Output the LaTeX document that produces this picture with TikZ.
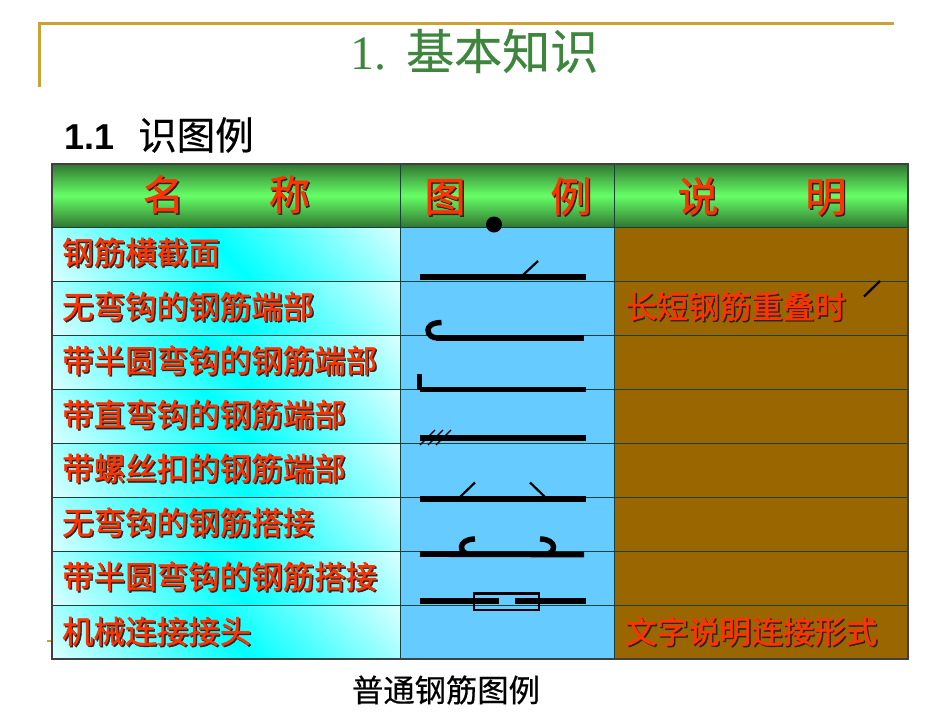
\documentclass[tikz,border=0pt]{standalone}
\usepackage{fontspec}
\setmainfont{Liberation Serif}
\newfontfamily\cjk[FakeBold=0.5]{Noto Sans CJK SC}
\newfontfamily\cjkfat[FakeBold=1.4]{Noto Sans CJK SC}
\newfontfamily\arial{Liberation Sans}
\definecolor{framegold}{RGB}{204,163,51}
\definecolor{titlegreen}{RGB}{62,134,62}
\definecolor{headdark}{RGB}{48,118,48}
\definecolor{headlight}{RGB}{102,255,102}
\definecolor{cellblue}{RGB}{102,204,255}
\definecolor{cellbrown}{RGB}{153,102,0}
\definecolor{labelred}{RGB}{255,51,0}
\definecolor{gridline}{RGB}{25,65,60}
\pgfdeclareverticalshading{rowglow}{100bp}{color(0bp)=(white); color(9bp)=(white); color(50bp)=(cyan); color(91bp)=(white); color(100bp)=(white)}
\newcommand{\shadowed}[1]{\makebox[0pt][l]{\hspace{1.4pt}\raisebox{-1.4pt}{\textcolor{black!85}{#1}}}\textcolor{labelred}{#1}}
\tikzset{
    namecell/.style={shading=rowglow,shading angle=132},
    headcell/.style={top color=headdark,bottom color=headdark,middle color=headlight},
    headtext/.style={font=\cjkfat\fontsize{41}{41}\selectfont,inner sep=0pt},
    rowtext/.style={anchor=west,font=\cjkfat\fontsize{31.5}{31.5}\selectfont,inner sep=0pt},
    gridrule/.style={gridline,line width=0.8pt},
    bar/.style={line width=5.8pt},
    hook/.style={line width=5.4pt},
    tick/.style={line width=2.2pt},
}
\begin{document}
\begin{tikzpicture}[x=1pt,y=-1pt]
    \useasboundingbox (0,0) rectangle (950,713);
    % frame
    \draw[framegold,line width=2.4pt] (39.5,87)--(39.5,23.5);
    \draw[framegold,line width=2.4pt] (38.3,23.5)--(894,23.5);
    \draw[framegold,line width=1.5pt] (47,641)--(52,641);
    % title
    \node[titlegreen,inner sep=0pt,font=\fontsize{48}{48}\selectfont,anchor=west] at (350,51) (title) {1.\hspace{20pt}{\cjk 基本知识}};
    \node[anchor=west,inner sep=0pt] at (64,135) (subtitle) {{\arial\bfseries\fontsize{36}{36}\selectfont 1.1}\hspace{24pt}{\cjk\fontsize{38.5}{38.5}\selectfont 识图例}};
    % table cells
    \shade[headcell] (52,164) rectangle (908,227);
    \shade[namecell] (52,227) rectangle (400.5,281);
    \shade[namecell] (52,281) rectangle (400.5,335);
    \shade[namecell] (52,335) rectangle (400.5,389);
    \shade[namecell] (52,389) rectangle (400.5,443);
    \shade[namecell] (52,443) rectangle (400.5,497);
    \shade[namecell] (52,497) rectangle (400.5,551);
    \shade[namecell] (52,551) rectangle (400.5,605);
    \shade[namecell] (52,605) rectangle (400.5,659);
    \fill[cellblue] (400.5,227) rectangle (614,659);
    \fill[cellbrown] (614,227) rectangle (908,659);
    % grid
    \draw[gridrule] (52,227)--(908,227);
    \draw[gridrule] (52,281)--(908,281);
    \draw[gridrule] (52,335)--(908,335);
    \draw[gridrule] (52,389)--(908,389);
    \draw[gridrule] (52,443)--(908,443);
    \draw[gridrule] (52,497)--(908,497);
    \draw[gridrule] (52,551)--(908,551);
    \draw[gridrule] (52,605)--(908,605);
    \draw[gridrule] (400.5,164)--(400.5,659);
    \draw[gridrule] (614,164)--(614,659);
    \draw[black!75,line width=1.1pt] (52,164) rectangle (908,659);
    % header
    \node[headtext] at (226.5,195) (h1) {\shadowed{名\hspace{85pt}称}};
    \node[headtext] at (508,197) (h2) {\shadowed{图\hspace{85pt}例}};
    \node[headtext] at (762,197) (h3) {\shadowed{说\hspace{87pt}明}};
    % first column
    \node[rowtext] at (62,253) (r1) {\shadowed{钢筋横截面}};
    \node[rowtext] at (62,307) (r2) {\shadowed{无弯钩的钢筋端部}};
    \node[rowtext] at (62,361) (r3) {\shadowed{带半圆弯钩的钢筋端部}};
    \node[rowtext] at (62,415) (r4) {\shadowed{带直弯钩的钢筋端部}};
    \node[rowtext] at (62,469) (r5) {\shadowed{带螺丝扣的钢筋端部}};
    \node[rowtext] at (62,523) (r6) {\shadowed{无弯钩的钢筋搭接}};
    \node[rowtext] at (62,577) (r7) {\shadowed{带半圆弯钩的钢筋搭接}};
    \node[rowtext] at (62,632) (r8) {\shadowed{机械连接接头}};
    % third column
    \node[rowtext] at (625,307) (n2) {\shadowed{长短钢筋重叠时}};
    \node[rowtext] at (625,632) (n8) {\shadowed{文字说明连接形式}};
    \draw[tick] (864,296.5)--(880,281);
    % symbols
    \fill (494,224.5) circle (8);
    \draw[bar] (420,277)--(586,277);
    \draw[tick] (523,275)--(538,261);
    \draw[bar] (436,338)--(584,338);
    \draw[hook] (441.5,322.5) .. controls (431,322.5) and (428,327) .. (428,330) .. controls (428,335) and (432,338) .. (438,338);
    \draw[bar] (420,389.5)--(586,389.5);
    \draw[bar] (419.5,374)--(419.5,390);
    \draw[bar] (420,437.7)--(586,437.7);
    \draw[line width=1.3pt] (420,445)--(435,430);
    \draw[line width=1.3pt] (428,445)--(443,430);
    \draw[line width=1.3pt] (436,445)--(451,430);
    \draw[bar] (420,498.7)--(586,498.7);
    \draw[tick] (460.5,496.5)--(475,482.5);
    \draw[tick] (530,482.5)--(544.5,496.5);
    \draw[bar] (420,554)--(584,554.5);
    \draw[hook] (475,539) .. controls (466,539) and (461.5,543) .. (461.5,547) .. controls (461.5,551) and (464,553) .. (468,554);
    \draw[hook] (540,539) .. controls (549,539) and (553.5,543) .. (553.5,547) .. controls (553.5,551) and (551,553) .. (546,554.5);
    \draw[bar] (420,601.3)--(499,601.3);
    \draw[bar] (515,601.3)--(586,601.3);
    \draw[line width=2.1pt] (474,593.5) rectangle (539,610);
    % caption
    \node[inner sep=0pt,font=\cjk\fontsize{31.3}{31.3}\selectfont] at (446,690) (caption) {普通钢筋图例};
\end{tikzpicture}
\end{document}
